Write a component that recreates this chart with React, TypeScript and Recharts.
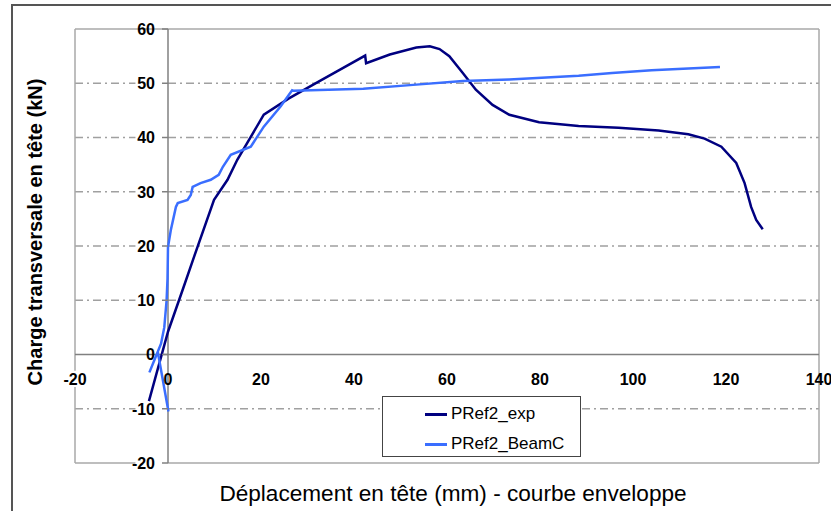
import React from 'react';
import { LineChart, Line, XAxis, YAxis, ReferenceLine, ReferenceDot, Legend } from 'recharts';

const xTicks = [-20, 0, 20, 40, 60, 80, 100, 120, 140];
const yTicks = [-20, -10, 0, 10, 20, 30, 40, 50, 60];
const gridValues = [-10, 10, 20, 30, 40, 50];
const seriesNames = ['PRef2_exp', 'PRef2_BeamC'];

const expX = [-4.1, 0, 3.1, 5.6, 9.9, 12.8, 14.9, 20.6, 26, 32, 37, 42.4, 42.6, 47.7, 53.4, 56.3, 58.4, 60.5, 63.4, 66.2, 69.8, 73.4, 79.8, 88.3, 96.9, 105.5, 111.9, 115.4, 119, 122.2, 124, 125.4, 126.5, 127.9];
const expY = [-8.6, 4.2, 11.8, 18, 28.5, 32.2, 35.9, 44.2, 47.2, 50.1, 52.5, 55.1, 53.7, 55.3, 56.6, 56.8, 56.3, 55, 51.9, 48.8, 46, 44.2, 42.8, 42.1, 41.8, 41.3, 40.6, 39.8, 38.3, 35.3, 31.6, 27.2, 24.8, 23.1];

const beamX = [0.1, -2.2, -4, -1.5, -0.8, -0.3, -0.1, 0, 0.6, 1.7, 2.1, 4.2, 4.9, 5.3, 7, 9.2, 10.9, 11.8, 13.5, 17.8, 20.6, 24.2, 26.7, 27, 42, 52.7, 63.4, 73.4, 88.3, 95.5, 104, 111.9, 118.7];
const beamY = [-10.5, 0.5, -3.3, 2, 5, 10, 14, 19.8, 22.9, 27.2, 27.9, 28.5, 29.4, 30.9, 31.6, 32.2, 33.1, 34.6, 36.8, 38.3, 42, 45.7, 48.7, 48.6, 49, 49.7, 50.4, 50.7, 51.4, 51.9, 52.4, 52.7, 53];

const expData = expX.map((x, i) => ({ x, y: expY[i] }));
const beamData = beamX.map((x, i) => ({ x, y: beamY[i] }));

const FONT = '"Liberation Sans", Arial, sans-serif';
const GRID = '#a0a0a0';
const FRAME = '#a8a8a8';
const AXIS = '#808080';

const xTickShape = (v: number) => (p: any) => {
  const { cx, cy } = p;
  return (
    <text x={cx} y={cy + 30} textAnchor="middle" fontFamily={FONT} fontWeight="bold" fontSize={16} fill="#000">{v}</text>
  );
};

const yTickShape = (v: number) => (p: any) => {
  const { cx, cy } = p;
  return (
    <g>
      <line x1={cx - 6} x2={cx} y1={cy} y2={cy} stroke={AXIS} strokeWidth={1.5} />
      <text x={cx - 13} y={cy} dy="0.36em" textAnchor="end" fontFamily={FONT} fontWeight="bold" fontSize={16} fill="#000">{v}</text>
    </g>
  );
};

const renderLegend = (props: any) => {
  const payload = [...(props.payload || [])].sort(
    (a: any, b: any) => seriesNames.indexOf(a.value) - seriesNames.indexOf(b.value)
  );
  return (
    <div style={{ position: 'relative', width: 199, height: 61, boxSizing: 'border-box', border: '1.5px solid #444', background: '#fff', fontFamily: FONT, fontSize: 17, color: '#000' }}>
      {payload.map((p: any, i: number) => (
        <div key={i} style={{ position: 'absolute', left: 42, top: 7 + i * 30, height: 20, display: 'flex', alignItems: 'center', whiteSpace: 'nowrap' }}>
          <span style={{ display: 'inline-block', width: 22, height: 3, background: p.color }} />
          <span style={{ marginLeft: 4 }}>{p.value}</span>
        </div>
      ))}
    </div>
  );
};

export default function App() {
  return (
    <div style={{ position: 'absolute', left: 0, top: 0, width: 831, height: 511, overflow: 'hidden', background: '#fff' }}>
      <div style={{ position: 'absolute', left: 11, top: 4, width: 900, height: 600, borderLeft: '2px solid #555', borderTop: '2px solid #555' }} />
      <div style={{ position: 'absolute', left: 0, top: 0 }}>
        <LineChart width={831} height={511} margin={{ top: 29, right: 12, bottom: 48, left: 75 }}>
          <XAxis type="number" dataKey="x" domain={[-20, 140]} ticks={xTicks} hide allowDataOverflow />
          <YAxis type="number" dataKey="y" domain={[-20, 60]} ticks={yTicks} hide allowDataOverflow />
          {gridValues.map((v) => (
            <ReferenceLine key={'ga' + v} segment={[{ x: -20, y: v }, { x: -7, y: v }]} stroke={GRID} strokeWidth={1.5} strokeDasharray="8 4 2 4" />
          ))}
          {gridValues.map((v) => (
            <ReferenceLine key={'gb' + v} segment={[{ x: 0, y: v }, { x: 140, y: v }]} stroke={GRID} strokeWidth={1.5} strokeDasharray="8 4 2 4" />
          ))}
          <ReferenceLine segment={[{ x: -20, y: 60 }, { x: 140, y: 60 }]} stroke={FRAME} strokeWidth={1.5} />
          <ReferenceLine segment={[{ x: 140, y: -20 }, { x: 140, y: 60 }]} stroke={FRAME} strokeWidth={1.5} />
          <ReferenceLine segment={[{ x: -20, y: -20 }, { x: -7, y: -20 }]} stroke={FRAME} strokeWidth={1.5} />
          <ReferenceLine segment={[{ x: 0, y: -20 }, { x: 140, y: -20 }]} stroke={FRAME} strokeWidth={1.5} />
          <ReferenceLine segment={[{ x: -20, y: -20 }, { x: -20, y: -6 }]} stroke={FRAME} strokeWidth={1.5} />
          <ReferenceLine segment={[{ x: -20, y: -3 }, { x: -20, y: 60 }]} stroke={FRAME} strokeWidth={1.5} />
          <ReferenceLine y={0} stroke={AXIS} strokeWidth={1.5} />
          <ReferenceLine x={0} stroke={AXIS} strokeWidth={1.5} />
          {yTicks.map((v) => (
            <ReferenceDot key={'yl' + v} x={0} y={v} r={0} shape={yTickShape(v)} />
          ))}
          {xTicks.map((v) => (
            <ReferenceDot key={'xl' + v} x={v} y={0} r={0} shape={xTickShape(v)} />
          ))}
          <Line data={expData} dataKey="y" name="PRef2_exp" type="linear" stroke="#000080" strokeWidth={2.5} dot={false} isAnimationActive={false} />
          <Line data={beamData} dataKey="y" name="PRef2_BeamC" type="linear" stroke="#3a6eff" strokeWidth={2.5} dot={false} isAnimationActive={false} />
          <Legend layout="horizontal" verticalAlign="middle" align="center" content={renderLegend} wrapperStyle={{ left: 382, top: 396, width: 199, height: 61 }} />
        </LineChart>
      </div>
      <div style={{ position: 'absolute', left: 35, top: 232, transform: 'translate(-50%, -50%) rotate(-90deg)', whiteSpace: 'nowrap', fontFamily: FONT, fontWeight: 'bold', fontSize: 20, color: '#000' }}>
        Charge transversale en tête (kN)
      </div>
      <div style={{ position: 'absolute', left: 453, top: 494, transform: 'translate(-50%, -50%)', whiteSpace: 'nowrap', fontFamily: FONT, fontSize: 22.6, color: '#000' }}>
        Déplacement en tête (mm) - courbe enveloppe
      </div>
    </div>
  );
}
